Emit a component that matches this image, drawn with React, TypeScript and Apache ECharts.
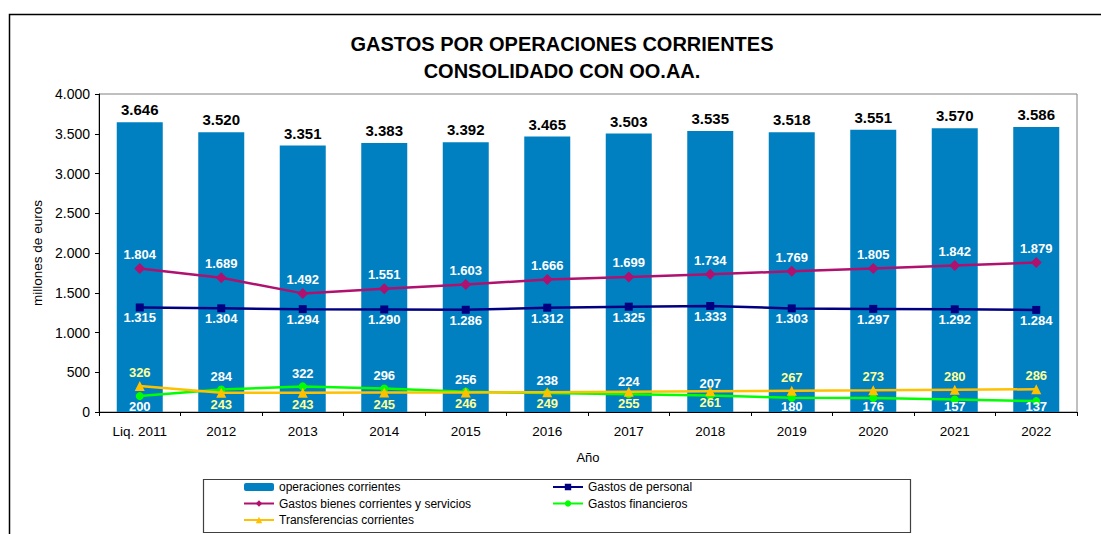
import React, { useEffect, useRef } from "react";
import * as echarts from "echarts";

const categories = ["Liq. 2011", "2012", "2013", "2014", "2015", "2016", "2017", "2018", "2019", "2020", "2021", "2022"];
const operaciones = [3646, 3520, 3351, 3383, 3392, 3465, 3503, 3535, 3518, 3551, 3570, 3586];
const personal = [1315, 1304, 1294, 1290, 1286, 1312, 1325, 1333, 1303, 1297, 1292, 1284];
const bienes = [1804, 1689, 1492, 1551, 1603, 1666, 1699, 1734, 1769, 1805, 1842, 1879];
const financieros = [200, 284, 322, 296, 256, 238, 224, 207, 180, 176, 157, 137];
const transferencias = [326, 243, 243, 245, 246, 249, 255, 261, 267, 273, 280, 286];

// label placement (style): categories 2012..2018 show "Gastos financieros" labels above
// and "Transferencias corrientes" labels below; the others the other way round.
const FIN_ABOVE_FROM = 1;
const FIN_ABOVE_TO = 7;

const FONT = "Arial, Liberation Sans, sans-serif";
const fmt = (v: number) => Math.round(v).toString().replace(/\B(?=(\d{3})+(?!\d))/g, ".");

const Y_MAX = 4000;
const PLOT_H = 318;

function labelFor(v: number, above: boolean, color: string) {
  if (above) {
    return { position: "top", distance: 2, color };
  }
  // keep labels below the point inside the plot area
  const py = (v * PLOT_H) / Y_MAX;
  const center = py - 10;
  const shift = Math.max(0, 6.5 - center);
  return { position: "bottom", distance: 0, offset: [0, -shift], color };
}

const finAbove = (i: number) => i >= FIN_ABOVE_FROM && i <= FIN_ABOVE_TO;

export default function App() {
  const ref = useRef<HTMLDivElement>(null);
  useEffect(() => {
    if (!ref.current) return;
    const chart = echarts.init(ref.current, undefined, { renderer: "svg" });
    const lineLabel = {
      show: true,
      fontFamily: FONT,
      fontSize: 13,
      fontWeight: "bold",
      formatter: (p: any) => fmt(p.value),
    };
    const legendCommon = {
      orient: "vertical",
      top: 480,
      height: 54,
      padding: 0,
      itemWidth: 30,
      itemHeight: 8,
      itemGap: 2.5,
      selectedMode: false,
      textStyle: { fontSize: 12, color: "#000", lineHeight: 14, fontFamily: FONT },
    };
    chart.setOption({
      animation: false,
      backgroundColor: "#ffffff",
      textStyle: { fontFamily: FONT },
      graphic: [
        {
          type: "rect",
          shape: { x: 9.5, y: 14.5, width: 1200, height: 700 },
          style: { fill: "none", stroke: "#000", lineWidth: 1.5 },
          silent: true,
          z: -10,
        },
        {
          type: "text",
          x: 562,
          y: 44,
          style: {
            text: "GASTOS POR OPERACIONES CORRIENTES",
            fontFamily: FONT,
            fontSize: 20,
            fontWeight: "bold",
            fill: "#000",
            textAlign: "center",
            textVerticalAlign: "middle",
          },
        },
        {
          type: "text",
          x: 562,
          y: 71,
          style: {
            text: "CONSOLIDADO CON OO.AA.",
            fontFamily: FONT,
            fontSize: 20,
            fontWeight: "bold",
            fill: "#000",
            textAlign: "center",
            textVerticalAlign: "middle",
          },
        },
        {
          type: "rect",
          shape: { x: 203.5, y: 479.5, width: 707, height: 53 },
          style: { fill: "#fff", stroke: "#404040", lineWidth: 1.2 },
          silent: true,
          z: -5,
        },
      ],
      grid: {
        left: 99,
        right: 24,
        top: 94,
        bottom: 122,
        show: true,
        borderColor: "#808080",
        borderWidth: 1,
        backgroundColor: "transparent",
      },
      legend: [
        {
          ...legendCommon,
          left: 243,
          data: ["operaciones corrientes", "Gastos bienes corrientes y servicios", "Transferencias corrientes"],
        },
        {
          ...legendCommon,
          left: 552,
          data: ["Gastos de personal", "Gastos financieros"],
        },
      ],
      xAxis: {
        type: "category",
        data: categories,
        boundaryGap: true,
        name: "Año",
        nameLocation: "middle",
        nameGap: 39,
        nameTextStyle: { fontSize: 13, color: "#000" },
        axisLine: { lineStyle: { color: "#000", width: 1 } },
        axisTick: { show: true, length: 4, inside: false, lineStyle: { color: "#000" } },
        axisLabel: { fontSize: 13.5, color: "#000", margin: 12, interval: 0 },
      },
      yAxis: {
        type: "value",
        min: 0,
        max: 4000,
        interval: 500,
        name: "millones de euros",
        nameLocation: "middle",
        nameGap: 55,
        nameTextStyle: { fontSize: 13.5, color: "#000" },
        splitLine: { show: false },
        axisLine: { show: true, lineStyle: { color: "#000", width: 1 } },
        axisTick: { show: true, length: 4, lineStyle: { color: "#000" } },
        axisLabel: { fontSize: 14, color: "#000", margin: 9, formatter: (v: number) => fmt(v) },
      },
      series: [
        {
          name: "operaciones corrientes",
          type: "bar",
          data: operaciones,
          barWidth: 46,
          itemStyle: { color: "#0080C0" },
          label: {
            show: true,
            position: "top",
            distance: 5,
            fontSize: 15,
            fontWeight: "bold",
            color: "#000",
            formatter: (p: any) => fmt(p.value),
          },
          z: 1,
        },
        {
          name: "Gastos de personal",
          type: "line",
          data: personal.map((v) => ({ value: v, label: labelFor(v, false, "#ffffff") })),
          symbol: "rect",
          symbolSize: 8,
          lineStyle: { color: "#000080", width: 2.5 },
          itemStyle: { color: "#000080" },
          label: lineLabel,
          z: 3,
        },
        {
          name: "Gastos bienes corrientes y servicios",
          type: "line",
          data: bienes.map((v) => ({ value: v, label: labelFor(v, true, "#ffffff") })),
          symbol: "diamond",
          symbolSize: 11,
          lineStyle: { color: "#B0106E", width: 2.5 },
          itemStyle: { color: "#B0106E" },
          label: lineLabel,
          z: 3,
        },
        {
          name: "Gastos financieros",
          type: "line",
          data: financieros.map((v, i) => ({ value: v, label: labelFor(v, finAbove(i), "#ffffff") })),
          symbol: "circle",
          symbolSize: 8,
          lineStyle: { color: "#00FF00", width: 2.5 },
          itemStyle: { color: "#00FF00" },
          label: lineLabel,
          z: 3,
        },
        {
          name: "Transferencias corrientes",
          type: "line",
          data: transferencias.map((v, i) => ({ value: v, label: labelFor(v, !finAbove(i), "#FFFF99") })),
          symbol: "triangle",
          symbolSize: 10,
          lineStyle: { color: "#FFC000", width: 2.5 },
          itemStyle: { color: "#FFC000" },
          label: lineLabel,
          z: 4,
        },
      ],
    });
    return () => chart.dispose();
  }, []);
  return <div ref={ref} style={{ position: "absolute", left: 0, top: 0, width: 1101, height: 534 }} />;
}
